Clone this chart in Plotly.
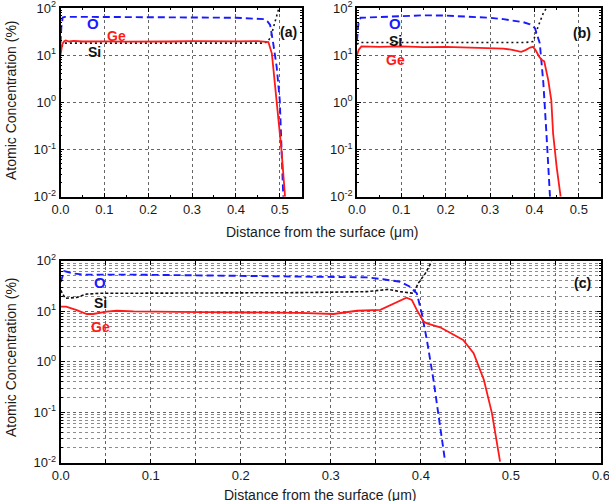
import math
import plotly.graph_objects as go

# ---------------- data ----------------
# panel (a)
a_O_x = [0.0, 0.002, 0.005, 0.01, 0.05, 0.1, 0.2, 0.3, 0.4, 0.45, 0.465, 0.472, 0.478, 0.485, 0.493, 0.5, 0.504, 0.508]
a_O_y = [18, 40, 63, 65, 65, 65, 64, 63, 62, 60, 58, 52, 44, 18, 5.6, 1.1, 0.095, 0.01]
a_Ge_x = [0.0, 0.004, 0.008, 0.012, 0.02, 0.03, 0.05, 0.08, 0.1, 0.15, 0.2, 0.25, 0.3, 0.35, 0.4, 0.45, 0.468, 0.474, 0.482, 0.489, 0.497, 0.504, 0.512]
a_Ge_y = [10, 17, 19.5, 20.5, 19.5, 20, 19.5, 19.8, 19.6, 19.4, 19.8, 19.5, 19.8, 19.5, 19.6, 19.8, 19.6, 19, 10.8, 2.5, 0.49, 0.095, 0.01]
a_Si_x = [0.0, 0.005, 0.01, 0.05, 0.1, 0.2, 0.3, 0.4, 0.46, 0.472, 0.48, 0.486, 0.492, 0.498]
a_Si_y = [12, 17, 18, 18, 18, 18, 18, 18, 18, 19, 25, 40, 65, 100]

# panel (b)
b_O_x = [0.0, 0.003, 0.008, 0.05, 0.1, 0.15, 0.2, 0.25, 0.3, 0.33, 0.36, 0.375, 0.39, 0.401, 0.412, 0.42, 0.427, 0.435]
b_O_y = [20, 45, 62, 64, 68, 70, 69, 66, 62, 58, 53, 50, 45, 37.6, 18, 2.6, 0.22, 0.01]
b_Ge_x = [0.0, 0.004, 0.01, 0.05, 0.1, 0.15, 0.2, 0.25, 0.3, 0.33, 0.35, 0.37, 0.38, 0.39, 0.397, 0.403, 0.41, 0.416, 0.422, 0.431, 0.438, 0.442, 0.45, 0.459]
b_Ge_y = [10, 13, 15.3, 15, 15.3, 14.8, 15, 14.6, 14.3, 13.8, 13, 11.8, 12.8, 14.5, 15, 12.5, 9.5, 8, 7.4, 3, 1.1, 0.22, 0.043, 0.01]
b_Si_x = [0.0, 0.005, 0.05, 0.1, 0.2, 0.3, 0.38, 0.397, 0.408, 0.42, 0.427]
b_Si_y = [17, 18.5, 18.5, 18.5, 18.3, 18.3, 18.6, 19.4, 40, 78, 100]

# panel (c)
c_O_x = [0.0, 0.004, 0.014, 0.025, 0.081, 0.192, 0.266, 0.34, 0.358, 0.377, 0.388, 0.3955, 0.401, 0.4067, 0.414, 0.4214, 0.427]
c_O_y = [38, 62, 56, 53, 53, 50.5, 48.3, 46.8, 42.8, 38.4, 30.5, 22.6, 9.1, 2.7, 0.44, 0.05, 0.0105]
c_Si_x = [0.0, 0.005, 0.018, 0.029, 0.044, 0.118, 0.2, 0.266, 0.34, 0.364, 0.377, 0.392, 0.397, 0.405, 0.412]
c_Si_y = [26, 18, 18.8, 21.9, 22.6, 22.6, 23.0, 23.3, 24.4, 27.1, 24.4, 22.6, 35.6, 56, 95.5]
c_Ge_x = [0.0, 0.006, 0.017, 0.029, 0.036, 0.051, 0.062, 0.081, 0.155, 0.229, 0.266, 0.303, 0.329, 0.355, 0.37, 0.384, 0.39, 0.3955, 0.403, 0.4067, 0.4214, 0.436, 0.447, 0.4586, 0.47, 0.479, 0.488]
c_Ge_y = [12.3, 12.3, 10.6, 8.8, 8.8, 9.8, 10.2, 9.9, 9.6, 9.6, 9.3, 8.8, 10.2, 10.6, 14.3, 18.5, 16.7, 10.6, 6.2, 5.75, 4.8, 3.4, 2.7, 1.47, 0.44, 0.095, 0.0105]

y_tickvals = [0.01, 0.1, 1, 10, 100]
y_ticktext = ["10<sup>-2</sup>", "10<sup>-1</sup>", "10<sup>0</sup>", "10<sup>1</sup>", "10<sup>2</sup>"]
x_grid_c = [0.0, 0.05, 0.1, 0.15, 0.2, 0.25, 0.3, 0.35, 0.4, 0.45, 0.5, 0.55, 0.6]
x_text_c = ["0.0", "", "0.1", "", "0.2", "", "0.3", "", "0.4", "", "0.5", "", "0.6"]

BLUE = "#1a1aff"
RED = "#ff1a1a"
BLACK = "#111111"
FONT = "Arial, Liberation Sans, sans-serif"

W, H = 609, 501
def fx(px):
    return px / W
def fy(py):
    return 1 - py / H

minor_log = [m * 10 ** e for e in range(-2, 2) for m in range(2, 10)]

fig = go.Figure()

def add(x, y, color, dash, width, xa, ya):
    fig.add_trace(go.Scatter(x=x, y=y, mode="lines", line=dict(color=color, dash=dash, width=width),
                             xaxis=xa, yaxis=ya, showlegend=False, hoverinfo="skip"))

add(a_Si_x, a_Si_y, BLACK, "2px,3px", 1.6, "x", "y")
add(a_O_x, a_O_y, BLUE, "7px,4px", 1.9, "x", "y")
add(a_Ge_x, a_Ge_y, RED, "solid", 1.8, "x", "y")
add(b_Si_x, b_Si_y, BLACK, "2px,3px", 1.6, "x2", "y2")
add(b_O_x, b_O_y, BLUE, "7px,4px", 1.9, "x2", "y2")
add(b_Ge_x, b_Ge_y, RED, "solid", 1.8, "x2", "y2")
add(c_Si_x, c_Si_y, BLACK, "3px,2px", 1.6, "x3", "y3")
add(c_O_x, c_O_y, BLUE, "7px,4px", 1.9, "x3", "y3")
add(c_Ge_x, c_Ge_y, RED, "solid", 1.8, "x3", "y3")

tickfont = dict(family=FONT, size=13, color="#1a1a1a")

def xaxis(domain, anchor, rng, lw):
    return dict(domain=domain, anchor=anchor, range=rng, automargin=False,
                ticklabeloverflow="allow",
                tickmode="linear", tick0=0, dtick=0.1, tickformat=".1f", tickfont=tickfont,
                showline=True, linecolor="black", linewidth=lw, mirror="ticks",
                ticks="inside", ticklen=4, tickcolor="black",
                showgrid=True, gridcolor="#666666", griddash="dot", gridwidth=1,
                zeroline=False, fixedrange=True,
                minor=dict(dtick=0.05, tick0=0, ticks="inside",
                           ticklen=2, tickcolor="black", showgrid=False))

def yaxis(domain, anchor, lw, minor_grid):
    return dict(domain=domain, anchor=anchor, type="log", range=[-2, 2], automargin=False,
                ticklabeloverflow="allow",
                tickmode="array", tickvals=y_tickvals, ticktext=y_ticktext, tickfont=tickfont,
                showline=True, linecolor="black", linewidth=lw, mirror="ticks",
                ticks="inside", ticklen=4, tickcolor="black",
                showgrid=True, gridcolor="#666666", griddash="dot", gridwidth=1,
                zeroline=False, fixedrange=True,
                minor=dict(tickmode="array", tickvals=minor_log, ticks="inside", ticklen=2, tickcolor="black",
                           showgrid=minor_grid, gridcolor="#8c8c8c", griddash="dot", gridwidth=1))

dom_top_y = [fy(196.7), fy(8)]
dom_bot_y = [fy(462.7), fy(260.7)]

x3 = xaxis([fx(60.7), fx(601)], "y3", [0, 0.6001], 2)
x3.update(tickmode="array", tickvals=x_grid_c, ticktext=x_text_c)
x3.pop("tick0"); x3.pop("dtick"); x3.pop("tickformat"); x3.pop("minor")

fig.update_layout(
    template="none",
    width=W, height=H,
    margin=dict(l=0, r=0, t=0, b=0, autoexpand=False),
    paper_bgcolor="white", plot_bgcolor="white",
    font=dict(family=FONT, color="#1a1a1a"),
    xaxis=xaxis([fx(60.5), fx(301.7)], "y", [0, 0.55], 1.5),
    yaxis=yaxis(dom_top_y, "x", 1.5, False),
    xaxis2=xaxis([fx(357), fx(601)], "y2", [0, 0.55], 1.5),
    yaxis2=yaxis(dom_top_y, "x2", 1.5, False),
    xaxis3=x3,
    yaxis3=yaxis(dom_bot_y, "x3", 2, True),
)

lab_font = dict(family=FONT, size=14, color="#1a1a1a")

def ann(text, x, y, xref, yref, color, size=14):
    fig.add_annotation(text=f"<b>{text}</b>", x=x, y=y, xref=xref, yref=yref,
                       showarrow=False, font=dict(family=FONT, size=size, color=color))

L = math.log10
# panel (a) labels
ann("O", 0.074, L(46), "x", "y", BLUE, 15)
ann("Ge", 0.128, L(25), "x", "y", RED, 14)
ann("Si", 0.078, L(11.5), "x", "y", BLACK, 14)
ann("(a)", 0.52, L(31), "x", "y", BLACK, 14)
# panel (b) labels
ann("O", 0.086, L(46), "x2", "y2", BLUE, 15)
ann("Si", 0.086, L(20), "x2", "y2", BLACK, 14)
ann("Ge", 0.086, L(7.9), "x2", "y2", RED, 14)
ann("(b)", 0.508, L(29), "x2", "y2", BLACK, 14)
# panel (c) labels
ann("O", 0.044, L(36.7), "x3", "y3", BLUE, 15)
ann("Si", 0.044, L(14.7), "x3", "y3", BLACK, 14)
ann("Ge", 0.044, L(4.9), "x3", "y3", RED, 14)
ann("(c)", 0.58, L(35.6), "x3", "y3", BLACK, 14)

# axis titles
fig.add_annotation(text="Distance from the surface (\u03bcm)", x=fx(322), y=fy(232), xref="paper", yref="paper",
                   showarrow=False, font=lab_font, xanchor="center", yanchor="middle")
fig.add_annotation(text="Distance from the surface (\u03bcm)", x=fx(320), y=fy(495), xref="paper", yref="paper",
                   showarrow=False, font=lab_font, xanchor="center", yanchor="middle")
fig.add_annotation(text="Atomic Concentration (%)", x=fx(11), y=fy(100), xref="paper", yref="paper",
                   showarrow=False, font=lab_font, textangle=-90, xanchor="center", yanchor="middle")
fig.add_annotation(text="Atomic Concentration (%)", x=fx(11), y=fy(357), xref="paper", yref="paper",
                   showarrow=False, font=lab_font, textangle=-90, xanchor="center", yanchor="middle")

fig.write_html("out.html", config={"displayModeBar": False},
               post_script="document.body.style.margin='0';")
